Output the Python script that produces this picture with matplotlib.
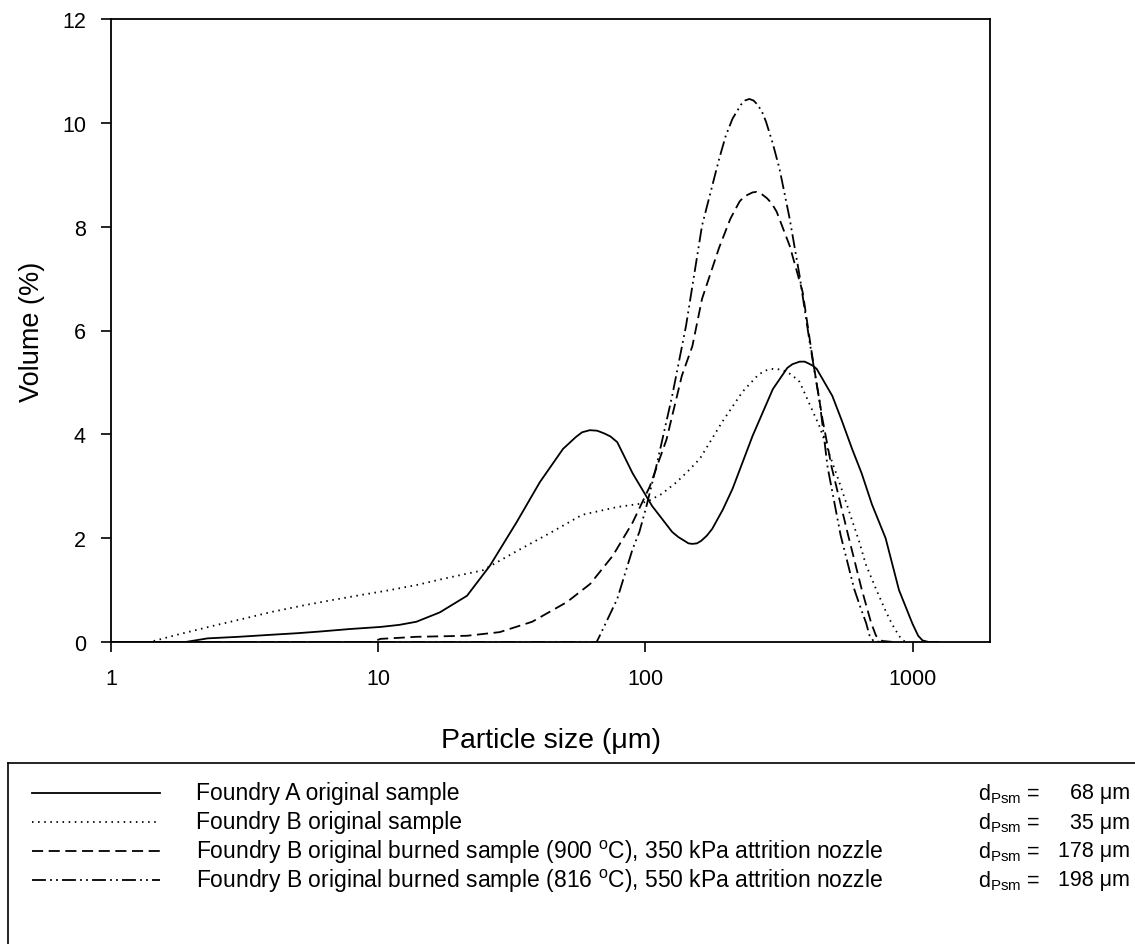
import matplotlib
matplotlib.use("Agg")
import matplotlib.pyplot as plt
from matplotlib.lines import Line2D

plt.rcParams['font.family'] = ['Liberation Sans', 'DejaVu Sans']
plt.rcParams['mathtext.fontset'] = 'custom'
plt.rcParams['mathtext.rm'] = 'Liberation Sans'
plt.rcParams['mathtext.it'] = 'Liberation Sans'
plt.rcParams['lines.scale_dashes'] = False

# ---------------- data ----------------
a_x = [1, 1.5, 1.9, 2.3, 3, 4, 5, 6, 7.84, 10.2, 12, 13.9, 17.0, 21.5, 26.2, 33.0, 40.3,
       49.2, 55, 58, 62, 66, 70, 74, 78.5, 89.6, 106, 126, 133, 140, 145, 150, 156, 162, 170,
       178, 195, 212, 252, 300, 340, 355, 378, 395, 410, 424, 438, 501, 545, 594, 645, 705,
       793, 890, 1000, 1050, 1090, 1150, 1250]
a_y = [0, 0, 0, 0.07, 0.10, 0.14, 0.17, 0.20, 0.25, 0.29, 0.33, 0.39, 0.57, 0.89, 1.47, 2.31, 3.08,
       3.72, 3.95, 4.04, 4.08, 4.07, 4.02, 3.96, 3.85, 3.25, 2.62, 2.12, 2.02, 1.95, 1.90, 1.89, 1.90, 1.95, 2.05,
       2.18, 2.55, 2.95, 3.97, 4.87, 5.28, 5.35, 5.40, 5.40, 5.36, 5.32, 5.26, 4.74, 4.25, 3.72, 3.25, 2.65,
       2.0, 1.0, 0.35, 0.12, 0.03, 0, 0]

b_x = [1, 1.4, 1.8, 2.45, 3.2, 4.0, 5.2, 6.6, 8.5, 10.8, 14, 17.6, 24.6, 33, 44, 58,
       78.5, 95, 103, 115, 131, 145, 160, 194, 231, 265, 282, 300, 320, 340, 358, 378, 448,
       532, 632, 668, 733, 793, 837, 890, 920, 950]
b_y = [0, 0, 0.15, 0.32, 0.46, 0.58, 0.70, 0.80, 0.90, 0.99, 1.10, 1.22, 1.38, 1.75, 2.10, 2.45,
       2.60, 2.66, 2.72, 2.85, 3.08, 3.30, 3.53, 4.24, 4.82, 5.15, 5.23, 5.26, 5.25, 5.20, 5.12, 5.01, 4.16,
       3.08, 1.93, 1.50, 1.0, 0.6, 0.35, 0.12, 0.03, 0]

c_x = [1, 5, 9.5, 10.2, 13.9, 21.5, 28.5, 37.7, 50.9, 62.2, 75.5, 89.6, 104, 120, 137,
       150, 163, 189, 208, 225, 234, 243, 252, 261, 272, 285, 297, 310, 347, 388, 423, 460,
       498, 574, 645, 700, 730, 770, 850]
c_y = [0, 0, 0, 0.06, 0.10, 0.12, 0.19, 0.39, 0.77, 1.12, 1.66, 2.30, 3.0, 3.9, 5.13,
       5.70, 6.61, 7.6, 8.15, 8.48, 8.58, 8.62, 8.66, 8.67, 8.63, 8.55, 8.45, 8.29, 7.63, 6.74, 5.45, 4.3,
       3.37, 2.06, 1.02, 0.37, 0.12, 0.02, 0]

d_x = [1, 30, 65.7, 67.5, 78.5, 89.6, 95, 101, 110, 126, 142, 163, 189, 200, 212, 228, 236,
       245, 254, 263, 273, 283, 300, 318, 347, 378, 412, 450, 481, 538, 605, 640, 670, 690,
       714, 760]
d_y = [0, 0, 0, 0.12, 0.83, 1.79, 2.12, 2.62, 3.39, 4.74, 6.09, 8.02, 9.31, 9.75, 10.08, 10.35, 10.43,
       10.46, 10.43, 10.35, 10.22, 10.02, 9.6, 9.11, 8.15, 7.05, 5.78, 4.6, 3.37, 2.06, 1.02, 0.65, 0.37, 0.13,
       0.02, 0]

series_labels = [
    "Foundry A original sample",
    "Foundry B original sample",
    "Foundry B original burned sample (900 $^{\\rm o}$C), 350 kPa attrition nozzle",
    "Foundry B original burned sample (816 $^{\\rm o}$C), 550 kPa attrition nozzle",
]
dpsm_values = ["68", "35", "178", "198"]

x_ticks = [1, 10, 100, 1000]
x_ticklabels = ["1", "10", "100", "1000"]
y_ticks = [0, 2, 4, 6, 8, 10, 12]

# ---------------- figure ----------------
W, H = 1135, 945
fig = plt.figure(figsize=(W / 100, H / 100), dpi=100)

def fx(px):
    return px / W

def fy(py):
    return 1 - py / H

ax_l, ax_r, ax_t, ax_b = 111, 990, 20, 643
ax = fig.add_axes([fx(ax_l), fy(ax_b), fx(ax_r - ax_l), (ax_b - ax_t) / H])

styles = [
    dict(linestyle='-'),
    dict(dashes=(1.1, 3.3)),
    dict(dashes=(8, 4)),
    dict(dashes=(10, 3, 1.3, 3, 1.3, 3)),
]
xs = [a_x, b_x, c_x, d_x]
ys = [a_y, b_y, c_y, d_y]
for x, y, st in zip(xs, ys, styles):
    ax.plot(x, y, color='black', lw=1.3, solid_joinstyle='round', dash_joinstyle='round', **st)

ax.set_xscale('log')
ax.set_xlim(1, 1950)
ax.set_ylim(0, 12)
ax.set_xticks(x_ticks)
ax.set_xticklabels(x_ticklabels)
ax.xaxis.set_minor_locator(matplotlib.ticker.NullLocator())
ax.set_yticks(y_ticks)
ax.tick_params(axis='both', direction='out', length=7, width=1.2, labelsize=15.5,
               top=False, right=False)
ax.tick_params(axis='x', pad=12)
ax.tick_params(axis='y', pad=11)
for s in ax.spines.values():
    s.set_linewidth(1.3)

ax.set_ylabel("Volume (%)", fontsize=19.5, labelpad=12)
fig.text(fx(551), fy(741), "Particle size (\u03bcm)", fontsize=20.5, ha='center', va='center')

# ---------------- legend box ----------------
fig.add_artist(Line2D([fx(8), fx(1135)], [fy(764), fy(764)], color='black', lw=1.2,
                      transform=fig.transFigure))
fig.add_artist(Line2D([fx(8), fx(8)], [fy(764), fy(945)], color='black', lw=1.2,
                      transform=fig.transFigure))

row_y = [794, 823, 852, 881]
for i, (lab, val, st) in enumerate(zip(series_labels, dpsm_values, styles)):
    yy = fy(row_y[i])
    fig.add_artist(Line2D([fx(32), fx(160)], [yy, yy], color='black', lw=1.3,
                          transform=fig.transFigure, **st))
    fig.text(fx(196), yy, lab, fontsize=16.5, ha='left', va='center')
    fig.text(fx(978), yy, "d$_{\\rm Psm}$ =", fontsize=15.5, ha='left', va='center')
    fig.text(fx(1130), yy, val + " \u03bcm", fontsize=15.5, ha='right', va='center')

fig.savefig("out.png", dpi=100)
